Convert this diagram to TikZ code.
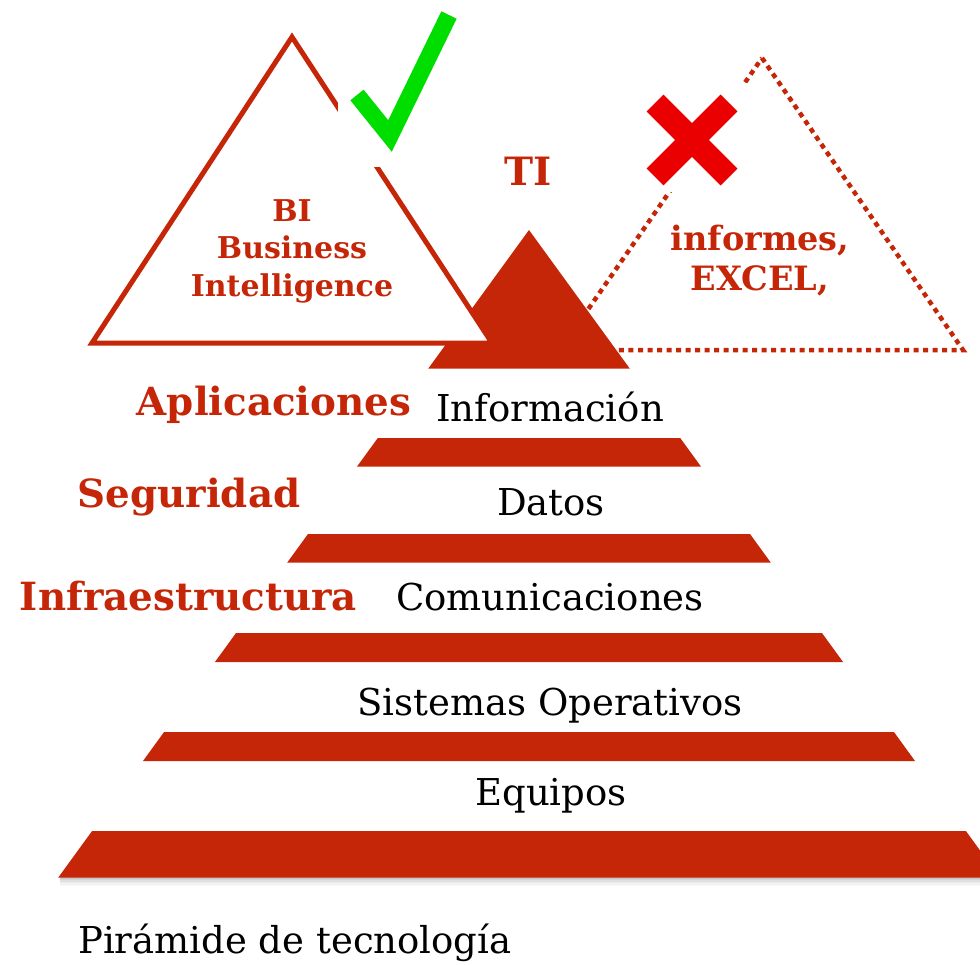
\documentclass[tikz,border=0pt]{standalone}
\usepackage{fontspec}
\setmainfont{DejaVu Serif}
\definecolor{pyrred}{RGB}{197,38,8}
\definecolor{xred}{RGB}{234,0,0}
\definecolor{chkgreen}{RGB}{0,222,0}
\begin{document}
\begin{tikzpicture}[x=1pt,y=-1pt,
  band/.style={fill=pyrred},
  bandtext/.style={anchor=base, inner sep=0pt, text=black, font=\fontsize{37}{40}\selectfont},
  sidetext/.style={anchor=base, inner sep=0pt, text=pyrred, font=\fontsize{38.8}{44}\selectfont\bfseries},
  bitext/.style={anchor=base, inner sep=0pt, text=pyrred, font=\fontsize{30}{34}\selectfont\bfseries},
  inftext/.style={anchor=base, inner sep=0pt, text=pyrred, font=\fontsize{33.5}{38}\selectfont\bfseries},
  outline/.style={draw=pyrred, line width=5pt, miter limit=10},
  dottri/.style={draw=pyrred, line width=4.5pt, dash pattern=on 5pt off 4.5pt},
]
\useasboundingbox (0,0) rectangle (980,964);
\fill[white] (0,0) rectangle (980,964);

% dotted triangle (behind the pyramid)
\draw[dottri] (762,58) -- (963,350) -- (560,350) -- cycle;
\fill[white] (636,83) rectangle (752,192);
\draw[xred, line width=24pt] (655,103) -- (729,177);
\draw[xred, line width=24pt] (729,103) -- (655,177);

% shadow under base band
\foreach \i/\o in {0/0.22,1.5/0.17,3/0.12,4.5/0.08,6/0.05,7.5/0.03}{
  \fill[black, opacity=\o] (60,877+\i) rectangle (980,878.5+\i);
}

% pyramid bands
\begin{scope}
\clip (0,230) rectangle (980,368.5)
      (0,438) rectangle (980,466.5)
      (0,534) rectangle (980,562.5)
      (0,633) rectangle (980,662)
      (0,732) rectangle (980,761)
      (0,831) rectangle (980,877.5);
\fill[band] (529,230) -- (57.2,879) -- (1000.8,879) -- cycle;
\end{scope}

% BI triangle (white filled, on top of pyramid)
\filldraw[outline, fill=white] (292,37) -- (492,343) -- (92,343) -- cycle;
\fill[white] (338,0) rectangle (470,167);
\draw[chkgreen, line width=17pt, miter limit=10] (357,95) -- (390,136) -- (449,15);

% texts
\node[bitext] (bi1) at (292,221.5) {BI};
\node[bitext] (bi2) at (292,258) {Business};
\node[bitext] (bi3) at (292,296) {Intelligence};
\node[anchor=base, inner sep=0pt, text=pyrred, font=\fontsize{39}{44}\selectfont\bfseries] (ti) at (528,185) {TI};
\node[inftext] (inf1) at (760,250) {informes,};
\node[inftext] (inf2) at (760,290) {EXCEL,};

\node[bandtext] (l1) at (550,421.5) {Información};
\node[bandtext] (l2) at (551,515) {Datos};
\node[bandtext] (l3) at (550,610.5) {Comunicaciones};
\node[bandtext] (l4) at (550,715) {Sistemas Operativos};
\node[bandtext] (l5) at (551,805) {Equipos};

\node[sidetext] (s1) at (274,415) {Aplicaciones};
\node[sidetext] (s2) at (189,507) {Seguridad};
\node[sidetext] (s3) at (188.5,610) {Infraestructura};

\node[bandtext, anchor=base west] (cap) at (78,953) {Pirámide de tecnología};
\end{tikzpicture}
\end{document}
